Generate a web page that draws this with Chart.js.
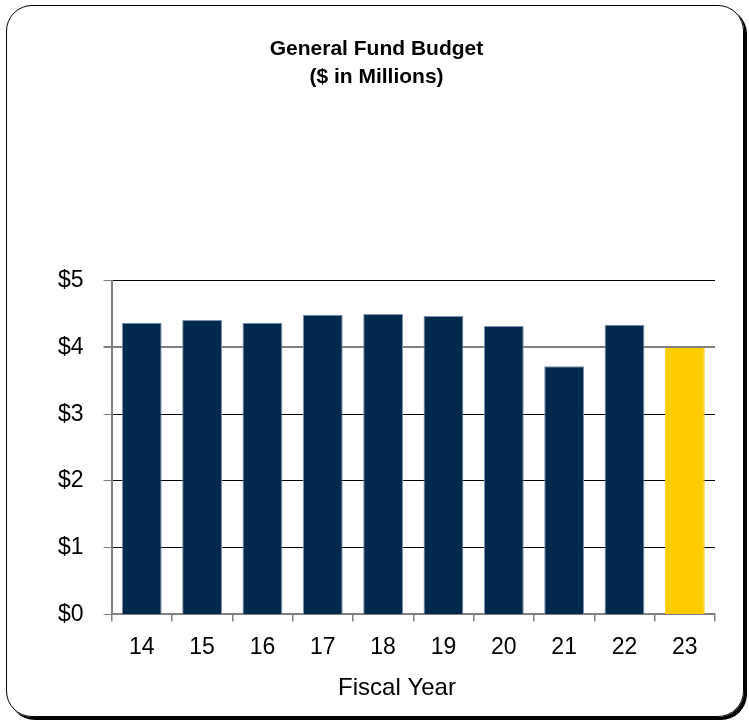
<!DOCTYPE html>
<html>
<head>
<meta charset="utf-8">
<script src="https://cdn.jsdelivr.net/npm/chart.js@4/dist/chart.umd.min.js"></script>
<style>
  html, body { margin: 0; padding: 0; background: #fff; }
  #frame {
    position: absolute; left: 6px; top: 5px; width: 736px; height: 710px;
    border: 1.5px solid #000; border-radius: 26px;
    box-shadow: 3px 3px 0 #000;
  }
  #wrap { position: absolute; left: 0; top: 0; width: 749px; height: 723px; }
</style>
</head>
<body>
<div id="frame"></div>
<div id="wrap"><canvas id="budgetChart" width="749" height="723"></canvas></div>
<script>
// fiscal years and budget ($ millions)
const years = ['14', '15', '16', '17', '18', '19', '20', '21', '22', '23'];
const budget = [4.37, 4.41, 4.37, 4.49, 4.50, 4.47, 4.32, 3.72, 4.34, 3.99];
const yTicks = [0, 1, 2, 3, 4, 5];

const navy = '#01284d';
const gold = '#ffcc00';
const barColors = years.map((y, i) => i === years.length - 1 ? gold : navy);
const barBorders = years.map((y, i) => i === years.length - 1 ? gold : '#7d92ad');

const font = 'Arial, "Liberation Sans", sans-serif';

// x axis title, centred a little right of the middle like the original
const axisTitle = {
    id: 'axisTitle',
    afterDraw(chart) {
        const ctx = chart.ctx;
        ctx.save();
        ctx.font = '24px ' + font;
        ctx.fillStyle = '#000';
        ctx.textAlign = 'center';
        ctx.textBaseline = 'middle';
        ctx.fillText('Fiscal Year', 397, chart.chartArea.bottom + 74);
        ctx.restore();
    }
};

const ctx = document.getElementById('budgetChart').getContext('2d');
new Chart(ctx, {
    type: 'bar',
    data: {
        labels: years,
        datasets: [{
            label: 'General Fund Budget',
            data: budget,
            backgroundColor: barColors,
            borderColor: barBorders,
            borderWidth: 1,
            barPercentage: 0.66,
            categoryPercentage: 1
        }]
    },
    options: {
        responsive: false,
        animation: false,
        layout: { padding: { left: 38, right: 34, top: 0, bottom: 50 } },
        plugins: {
            legend: { display: false },
            tooltip: { enabled: false },
            title: {
                display: true,
                text: ['General Fund Budget', '($ in Millions)'],
                color: '#000',
                font: { family: font, size: 21, weight: 'bold', lineHeight: 1.35 },
                padding: { top: 35, bottom: 189 }
            }
        },
        scales: {
            x: {
                grid: {
                    offset: true,
                    drawOnChartArea: false,
                    tickLength: 7,
                    tickColor: '#808080',
                    lineWidth: 1.5
                },
                border: { color: '#808080', width: 2 },
                ticks: { color: '#000', font: { family: font, size: 23 }, padding: 12 }
            },
            y: {
                min: 0,
                max: 5,
                afterBuildTicks(scale) {
                    scale.ticks = yTicks.map(v => ({ value: v }));
                },
                grid: {
                    color: c => (c.tick && c.tick.value === 4) ? '#808080' : '#000',
                    lineWidth: c => (c.tick && c.tick.value === 4) ? 2 : 1,
                    tickLength: 8,
                    tickColor: '#808080'
                },
                border: { color: '#808080', width: 2 },
                ticks: {
                    color: '#000',
                    font: { family: font, size: 23 },
                    padding: 20,
                    callback: v => '$' + v
                }
            }
        }
    },
    plugins: [axisTitle]
});
</script>
</body>
</html>
